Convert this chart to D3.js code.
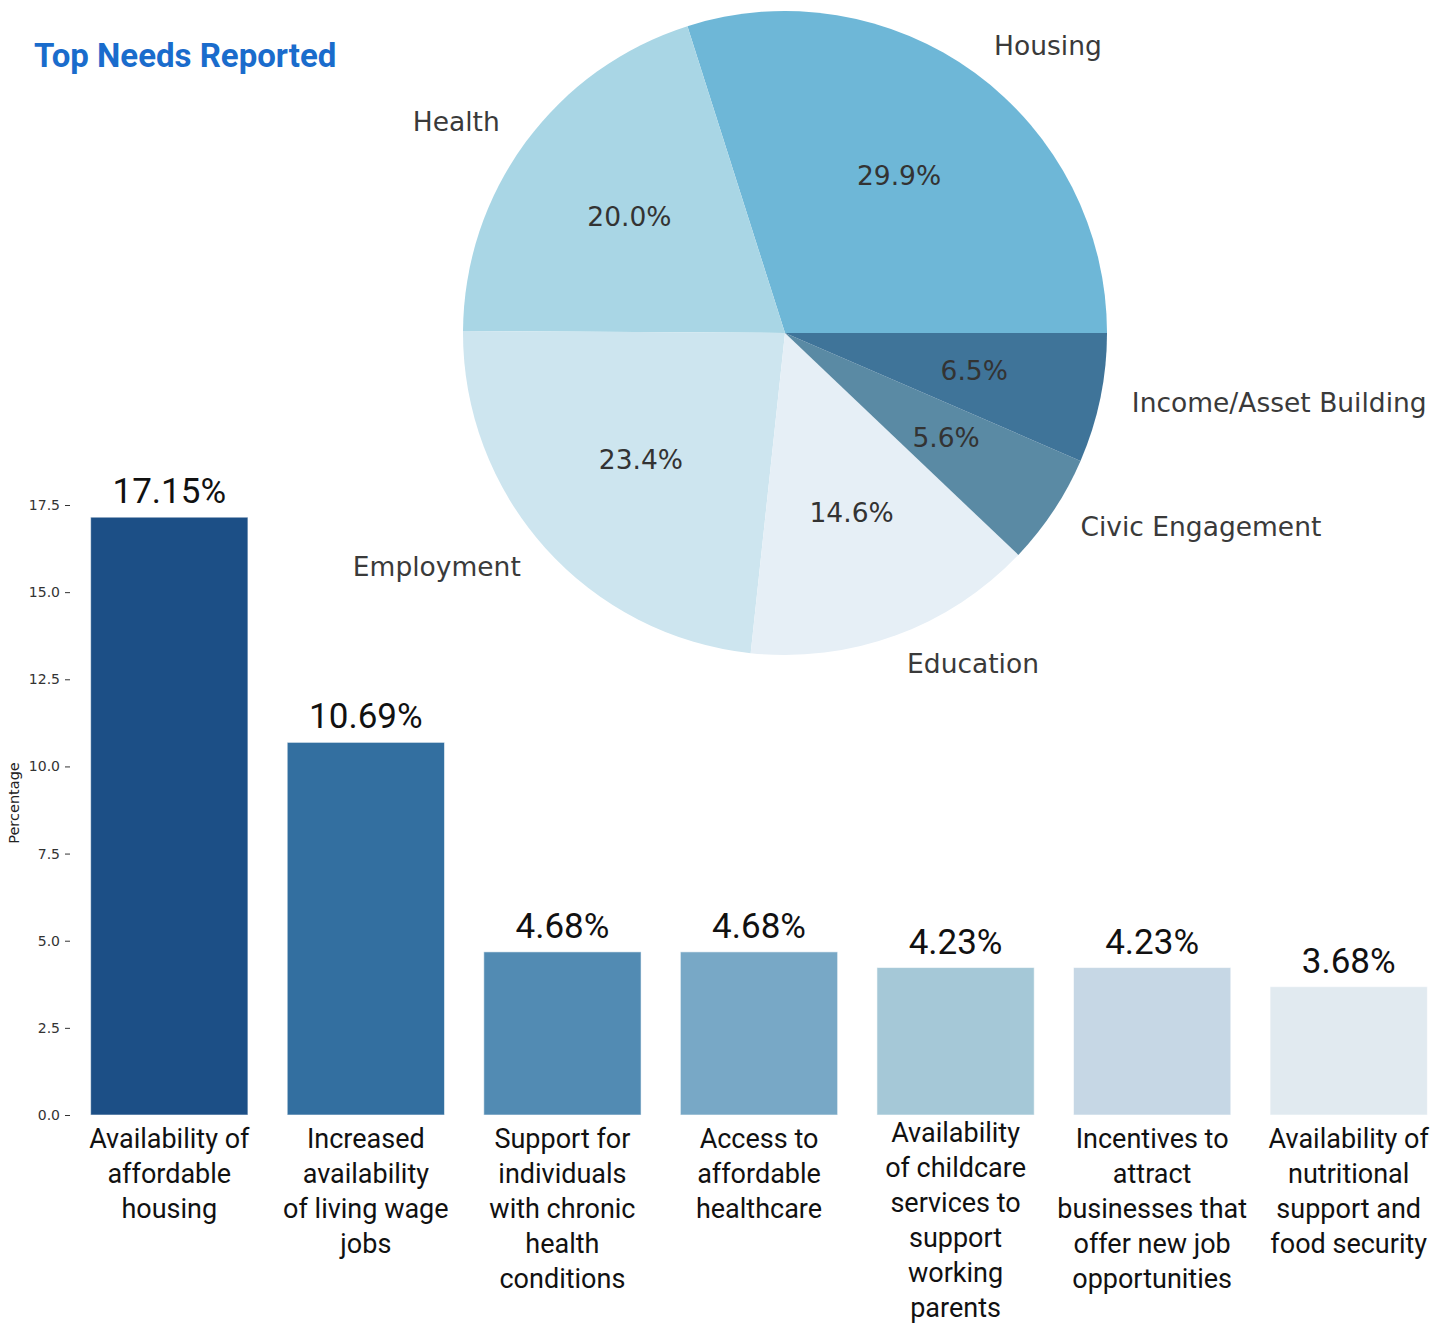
<!DOCTYPE html>
<html>
<head>
<meta charset="utf-8">
<script src="https://cdn.jsdelivr.net/npm/d3@7"></script>
<style>
  html, body { margin: 0; padding: 0; background: #fff; }
  svg { display: block; }
</style>
</head>
<body>
<svg id="chart" width="1451" height="1325"></svg>
<script>
// Pie: share of needs by area
const pieLabels = ["Housing", "Health", "Employment", "Education", "Civic Engagement", "Income/Asset Building"];
const pieValues = [29.9, 20.0, 23.4, 14.6, 5.6, 6.5];
const pieColors = ["#6eb7d7", "#a9d6e5", "#cde5ef", "#e6eff6", "#5a8aa4", "#3f7499"];

// Bars: top individual needs
const barCategories = [
  "Availability of\naffordable\nhousing",
  "Increased\navailability\nof living wage\njobs",
  "Support for\nindividuals\nwith chronic\nhealth\nconditions",
  "Access to\naffordable\nhealthcare",
  "Availability\nof childcare\nservices to\nsupport\nworking\nparents",
  "Incentives to\nattract\nbusinesses that\noffer new job\nopportunities",
  "Availability of\nnutritional\nsupport and\nfood security"
];
const barValues = [17.15, 10.69, 4.68, 4.68, 4.23, 4.23, 3.68];
const barColors = ["#1c4f86", "#336fa0", "#528bb3", "#78a8c6", "#a5c8d7", "#c6d7e5", "#e1eaf0"];
const yTicks = [0, 2.5, 5, 7.5, 10, 12.5, 15, 17.5];

const svg = d3.select("#chart");

// Title
svg.append("text")
  .attr("x", 34).attr("y", 67)
  .attr("font-family", "Roboto, sans-serif")
  .attr("font-weight", 700)
  .attr("font-size", 33)
  .attr("fill", "#1a6ccc")
  .text("Top Needs Reported");

// ---- Pie chart ----
const cx = 785, cy = 333, R = 322;
const pieG = svg.append("g").attr("transform", `translate(${cx},${cy})`);
// counter-clockwise from 3 o'clock
const pie = d3.pie().sort(null).value(d => d)
  .startAngle(Math.PI / 2).endAngle(Math.PI / 2 - 2 * Math.PI);
const arcs = pie(pieValues);
const arc = d3.arc().innerRadius(0).outerRadius(R);

pieG.selectAll("path.slice").data(arcs).enter().append("path")
  .attr("class", "slice")
  .attr("d", arc)
  .attr("fill", (d, i) => pieColors[i]);

const pieFont = "'DejaVu Sans', sans-serif";
arcs.forEach((d, i) => {
  const mid = (d.startAngle + d.endAngle) / 2;
  const sx = Math.sin(mid), sy = -Math.cos(mid);
  pieG.append("text")
    .attr("x", R * 1.1 * sx).attr("y", R * 1.1 * sy - 2)
    .attr("text-anchor", sx > 0 ? "start" : "end")
    .attr("dominant-baseline", "central")
    .attr("font-family", pieFont).attr("font-size", 26.5)
    .attr("fill", "#3a3a3a")
    .text(pieLabels[i]);
  pieG.append("text")
    .attr("x", R * 0.6 * sx).attr("y", R * 0.6 * sy - 2)
    .attr("text-anchor", "middle")
    .attr("dominant-baseline", "central")
    .attr("font-family", pieFont).attr("font-size", 26.5)
    .attr("fill", "#333")
    .text(d3.format(".1f")(pieValues[i]) + "%");
});

// ---- Bar chart ----
const x = d3.scaleBand().domain(d3.range(barValues.length))
  .range([71, 1447]).paddingInner(0.2).paddingOuter(0.1);
const y = d3.scaleLinear().domain([0, 17.5]).range([1115, 505]);

const yAxis = d3.axisLeft(y).tickValues(yTicks).tickFormat(d3.format(".1f"))
  .tickSize(5).tickPadding(5);
const yG = svg.append("g").attr("transform", "translate(70,0)").call(yAxis);
yG.select(".domain").remove();
yG.selectAll(".tick line").attr("stroke", "#333").attr("stroke-width", 1);
yG.selectAll(".tick text").attr("font-family", pieFont).attr("font-size", 14).attr("fill", "#333");

svg.append("text")
  .attr("transform", "translate(19,803) rotate(-90)")
  .attr("text-anchor", "middle")
  .attr("font-family", pieFont).attr("font-size", 14.5)
  .attr("fill", "#222")
  .text("Percentage");

const barG = svg.append("g");
barG.selectAll("rect").data(barValues).enter().append("rect")
  .attr("x", (d, i) => x(i))
  .attr("y", d => y(d))
  .attr("width", x.bandwidth())
  .attr("height", d => y(0) - y(d))
  .attr("fill", (d, i) => barColors[i])
  .attr("stroke", "rgba(255,255,255,0.55)")
  .attr("stroke-width", 1);

const labelFont = "Roboto, sans-serif";
barG.selectAll("text.value").data(barValues).enter().append("text")
  .attr("class", "value")
  .attr("x", (d, i) => x(i) + x.bandwidth() / 2)
  .attr("y", d => y(d) - 14)
  .attr("text-anchor", "middle")
  .attr("font-family", labelFont).attr("font-size", 35)
  .attr("fill", "#111")
  .text(d => d3.format(".2f")(d) + "%");

// Category names under each bar, one tspan per line
barCategories.forEach((c, i) => {
  const lines = c.split("\n");
  const top = lines.length > 5 ? 1142 : 1148;
  const t = svg.append("text")
    .attr("text-anchor", "middle")
    .attr("font-family", labelFont).attr("font-size", 27)
    .attr("fill", "#111");
  lines.forEach((line, j) => {
    t.append("tspan")
      .attr("x", x(i) + x.bandwidth() / 2)
      .attr("y", top + j * 35)
      .text(line);
  });
});
</script>
</body>
</html>
